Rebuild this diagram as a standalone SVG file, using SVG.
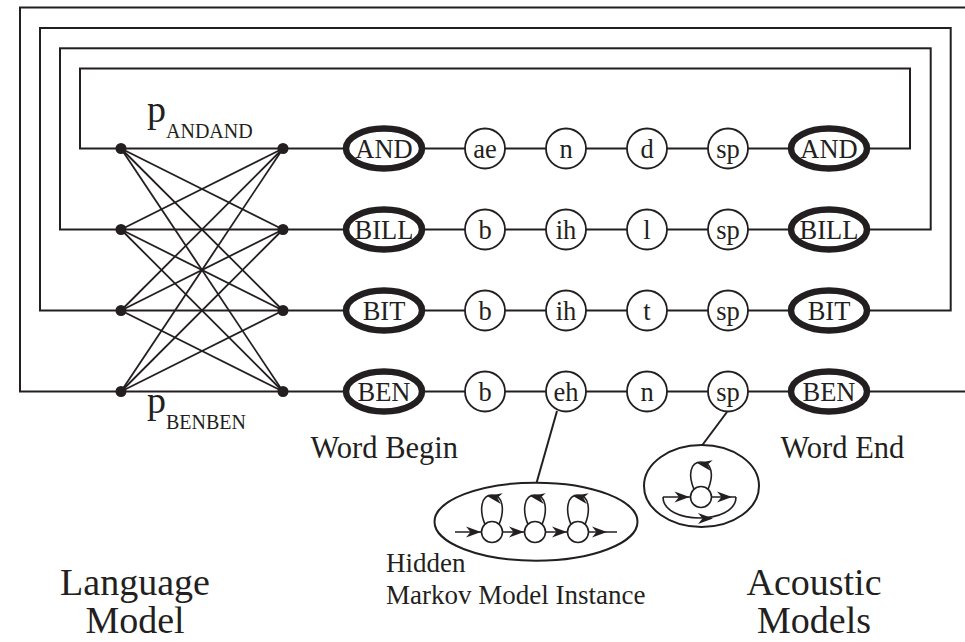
<svg xmlns="http://www.w3.org/2000/svg" xmlns:xlink="http://www.w3.org/1999/xlink" width="965" height="642" viewBox="0 0 965 642">
  <style>
    .ln { fill: none; stroke: #231f20; stroke-width: 2; }
    .xl { fill: none; stroke: #231f20; stroke-width: 1.8; }
    .dot { fill: #231f20; }
    .word { fill: #fff; stroke: #231f20; stroke-width: 6.5; }
    .phone { fill: #fff; stroke: #231f20; stroke-width: 1.8; }
    .st { fill: #fff; stroke: #231f20; stroke-width: 1.6; }
    .hmm { fill: #fff; stroke: #231f20; stroke-width: 2; }
    .loop { fill: none; stroke: #231f20; stroke-width: 1.6; }
    .arr { fill: #231f20; }
    text { font-family: "Liberation Serif", "Times New Roman", serif; fill: #231f20; }
    .nl { font-size: 26.5px; text-anchor: middle; }
    .cap { font-size: 30.5px; }
    .big { font-size: 38px; text-anchor: middle; }
    .mid { font-size: 27px; }
  </style>
  <defs>
    <!-- barbed arrowhead, tip at origin pointing along +x -->
    <path id="ah" class="arr" d="M0,0 L-15,-5.5 L-10.5,0 L-15,5.5 Z"/>
  </defs>

  <rect width="965" height="642" fill="#fff"/>

  <!-- connectors: word loops, language-model transitions, model links -->
  <g id="connectors">
    <rect class="ln" x="80" y="68.5" width="830" height="80"/>
    <rect class="ln" x="60" y="48.3" width="870.7" height="181.2"/>
    <rect class="ln" x="40" y="28" width="910.7" height="282.5"/>
    <path class="ln" d="M965,7.5 H20 V391.5 H965"/>
    <!-- full bigram grid between word-end and word-begin points -->
    <g class="xl">
      <line x1="121" y1="148.5" x2="283" y2="229.5"/>
      <line x1="121" y1="148.5" x2="283" y2="310.5"/>
      <line x1="121" y1="148.5" x2="283" y2="391.5"/>
      <line x1="121" y1="229.5" x2="283" y2="148.5"/>
      <line x1="121" y1="229.5" x2="283" y2="310.5"/>
      <line x1="121" y1="229.5" x2="283" y2="391.5"/>
      <line x1="121" y1="310.5" x2="283" y2="148.5"/>
      <line x1="121" y1="310.5" x2="283" y2="229.5"/>
      <line x1="121" y1="310.5" x2="283" y2="391.5"/>
      <line x1="121" y1="391.5" x2="283" y2="148.5"/>
      <line x1="121" y1="391.5" x2="283" y2="229.5"/>
      <line x1="121" y1="391.5" x2="283" y2="310.5"/>
    </g>
    <line class="ln" x1="557" y1="411" x2="536.5" y2="483"/>
    <line class="ln" x1="727" y1="412" x2="702" y2="445.5"/>
  </g>

  <g id="lm-points">
    <circle class="dot" cx="121" cy="148.5" r="5.5"/>
    <circle class="dot" cx="121" cy="229.5" r="5.5"/>
    <circle class="dot" cx="121" cy="310.5" r="5.5"/>
    <circle class="dot" cx="121" cy="391.5" r="5.5"/>
    <circle class="dot" cx="283" cy="148.5" r="5.5"/>
    <circle class="dot" cx="283" cy="229.5" r="5.5"/>
    <circle class="dot" cx="283" cy="310.5" r="5.5"/>
    <circle class="dot" cx="283" cy="391.5" r="5.5"/>
  </g>

  <!-- word AND -->
  <g id="and-begin"><ellipse class="word" cx="384" cy="148.5" rx="38" ry="20"/><text class="nl" x="384" y="158">AND</text></g>
  <g id="and-ae"><circle class="phone" cx="485" cy="148.5" r="20"/><text class="nl" x="485" y="157.5">ae</text></g>
  <g id="and-n"><circle class="phone" cx="566" cy="148.5" r="20"/><text class="nl" x="566" y="157.5">n</text></g>
  <g id="and-d"><circle class="phone" cx="647" cy="148.5" r="20"/><text class="nl" x="647" y="157.5">d</text></g>
  <g id="and-sp"><circle class="phone" cx="728" cy="148.5" r="20"/><text class="nl" x="728" y="157.5">sp</text></g>
  <g id="and-end"><ellipse class="word" cx="829" cy="148.5" rx="38" ry="20"/><text class="nl" x="829" y="158">AND</text></g>

  <!-- word BILL -->
  <g id="bill-begin"><ellipse class="word" cx="384" cy="229.5" rx="38" ry="20"/><text class="nl" x="384" y="239">BILL</text></g>
  <g id="bill-b"><circle class="phone" cx="485" cy="229.5" r="20"/><text class="nl" x="485" y="238.5">b</text></g>
  <g id="bill-ih"><circle class="phone" cx="566" cy="229.5" r="20"/><text class="nl" x="566" y="238.5">ih</text></g>
  <g id="bill-l"><circle class="phone" cx="647" cy="229.5" r="20"/><text class="nl" x="647" y="238.5">l</text></g>
  <g id="bill-sp"><circle class="phone" cx="728" cy="229.5" r="20"/><text class="nl" x="728" y="238.5">sp</text></g>
  <g id="bill-end"><ellipse class="word" cx="829" cy="229.5" rx="38" ry="20"/><text class="nl" x="829" y="239">BILL</text></g>

  <!-- word BIT -->
  <g id="bit-begin"><ellipse class="word" cx="384" cy="310.5" rx="38" ry="20"/><text class="nl" x="384" y="320">BIT</text></g>
  <g id="bit-b"><circle class="phone" cx="485" cy="310.5" r="20"/><text class="nl" x="485" y="319.5">b</text></g>
  <g id="bit-ih"><circle class="phone" cx="566" cy="310.5" r="20"/><text class="nl" x="566" y="319.5">ih</text></g>
  <g id="bit-t"><circle class="phone" cx="647" cy="310.5" r="20"/><text class="nl" x="647" y="319.5">t</text></g>
  <g id="bit-sp"><circle class="phone" cx="728" cy="310.5" r="20"/><text class="nl" x="728" y="319.5">sp</text></g>
  <g id="bit-end"><ellipse class="word" cx="829" cy="310.5" rx="38" ry="20"/><text class="nl" x="829" y="320">BIT</text></g>

  <!-- word BEN -->
  <g id="ben-begin"><ellipse class="word" cx="384" cy="391.5" rx="38" ry="20"/><text class="nl" x="384" y="401">BEN</text></g>
  <g id="ben-b"><circle class="phone" cx="485" cy="391.5" r="20"/><text class="nl" x="485" y="400.5">b</text></g>
  <g id="ben-eh"><circle class="phone" cx="566" cy="391.5" r="20"/><text class="nl" x="566" y="400.5">eh</text></g>
  <g id="ben-n"><circle class="phone" cx="647" cy="391.5" r="20"/><text class="nl" x="647" y="400.5">n</text></g>
  <g id="ben-sp"><circle class="phone" cx="728" cy="391.5" r="20"/><text class="nl" x="728" y="400.5">sp</text></g>
  <g id="ben-end"><ellipse class="word" cx="829" cy="391.5" rx="38" ry="20"/><text class="nl" x="829" y="401">BEN</text></g>

  <!-- three-state HMM instance -->
  <g id="hmm-instance">
    <ellipse class="hmm" cx="536" cy="521.7" rx="101.5" ry="39"/>
    <line class="loop" x1="455" y1="532" x2="617" y2="532"/>
    <path class="loop" d="M499,524.5 C505,510 503,495 492,495 C481,495 479,510 485,524.5"/>
    <path class="loop" d="M542,524.5 C548,510 546,495 535,495 C524,495 522,510 528,524.5"/>
    <path class="loop" d="M585,524.5 C591,510 589,495 578,495 C567,495 565,510 571,524.5"/>
    <circle class="st" cx="492" cy="532" r="10.5"/>
    <circle class="st" cx="535" cy="532" r="10.5"/>
    <circle class="st" cx="578" cy="532" r="10.5"/>
    <use xlink:href="#ah" transform="translate(481,532)"/>
    <use xlink:href="#ah" transform="translate(524,532)"/>
    <use xlink:href="#ah" transform="translate(567,532)"/>
    <use xlink:href="#ah" transform="translate(607,532)"/>
    <use xlink:href="#ah" transform="translate(487,496) rotate(190)"/>
    <use xlink:href="#ah" transform="translate(530,496) rotate(190)"/>
    <use xlink:href="#ah" transform="translate(573,496) rotate(190)"/>
  </g>

  <!-- single-state sp model with skip -->
  <g id="sp-model">
    <ellipse class="hmm" cx="701.5" cy="486" rx="57.5" ry="41"/>
    <line class="loop" x1="663" y1="497" x2="736" y2="497"/>
    <path class="loop" d="M663,497 C663,525 736,525 736,497"/>
    <path class="loop" d="M708,489.5 C714,475 712,462 701,462 C690,462 688,475 694,489.5"/>
    <circle class="st" cx="701" cy="497" r="10.5"/>
    <use xlink:href="#ah" transform="translate(689.5,497)"/>
    <use xlink:href="#ah" transform="translate(732,497)"/>
    <use xlink:href="#ah" transform="translate(713,518.5)"/>
    <use xlink:href="#ah" transform="translate(697,463) rotate(190)"/>
  </g>

  <g id="labels">
    <text x="147" y="122" font-size="38">p<tspan font-size="20" dy="15.5">ANDAND</tspan></text>
    <text x="147" y="413" font-size="38">p<tspan font-size="20" dy="15.5">BENBEN</tspan></text>
    <text class="cap" x="310.5" y="458.3">Word Begin</text>
    <text class="cap" x="780.5" y="458">Word End</text>
    <text class="mid" x="386" y="572">Hidden</text>
    <text class="mid" x="386" y="603.5">Markov Model Instance</text>
    <text class="big" x="135" y="595">Language</text>
    <text class="big" x="135" y="633">Model</text>
    <text class="big" x="814" y="595">Acoustic</text>
    <text class="big" x="814" y="633">Models</text>
  </g>
</svg>
